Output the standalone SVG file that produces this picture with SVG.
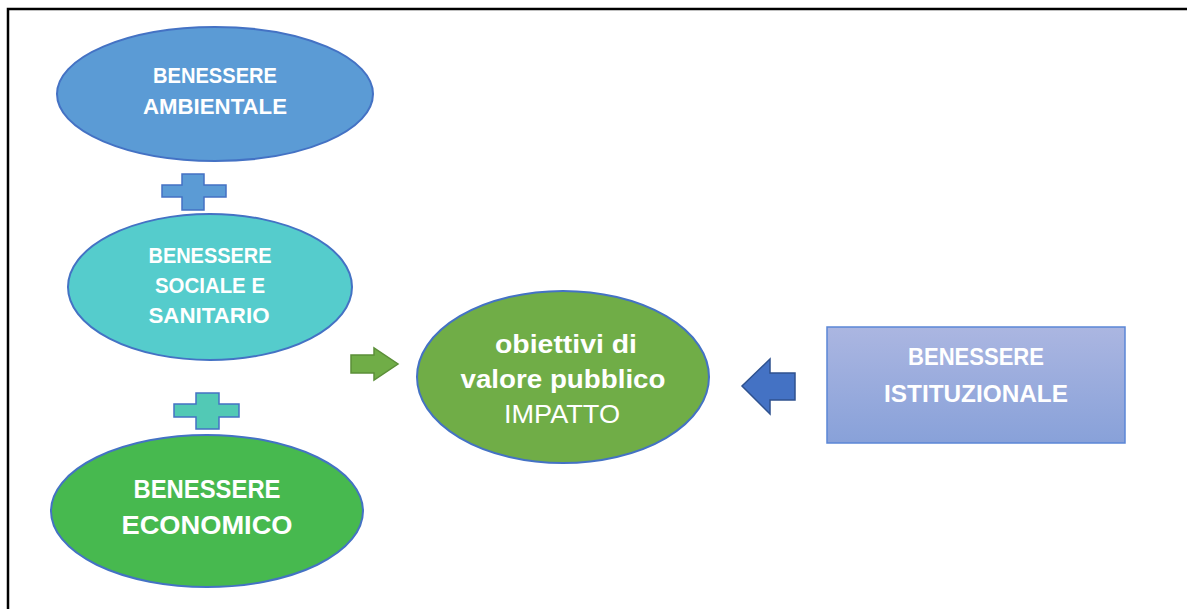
<svg xmlns="http://www.w3.org/2000/svg" width="1187" height="609" viewBox="0 0 1187 609">
  <defs>
    <linearGradient id="gRect" x1="0" y1="0" x2="0" y2="1">
      <stop offset="0" stop-color="#abb6e1"/>
      <stop offset="1" stop-color="#88a1d9"/>
    </linearGradient>
    <style>
      .t { font-family: "Liberation Sans", Arial, sans-serif; fill: #ffffff; text-anchor: middle; font-weight: bold; }
      .n { font-weight: normal; }
      .ell { stroke: #4472c4; stroke-width: 2; }
    </style>
  </defs>
  <rect x="0" y="0" width="1187" height="609" fill="#ffffff"/>
  <!-- frame -->
  <path d="M8 609 V9 H1187" fill="none" stroke="#000000" stroke-width="2.5"/>

  <g id="ambientale">
    <ellipse class="ell" cx="215" cy="94" rx="158" ry="67" fill="#5b9bd5"/>
    <text class="t" x="215" y="83" font-size="21.5" textLength="124" lengthAdjust="spacingAndGlyphs">BENESSERE</text>
    <text class="t" x="215" y="114" font-size="21.5" textLength="144" lengthAdjust="spacingAndGlyphs">AMBIENTALE</text>
  </g>

  <g id="plus1">
    <path d="M182 174 H204 V185 H226 V197 H204 V210 H182 V197 H162 V185 H182 Z" fill="#5b9bd5" stroke="#4472c4" stroke-width="1.5"/>
  </g>

  <g id="sociale">
    <ellipse class="ell" cx="210" cy="287" rx="142" ry="73" fill="#55cccc"/>
    <text class="t" x="210" y="263" font-size="21.5" textLength="123" lengthAdjust="spacingAndGlyphs">BENESSERE</text>
    <text class="t" x="210" y="293" font-size="21.5" textLength="110" lengthAdjust="spacingAndGlyphs">SOCIALE E</text>
    <text class="t" x="209" y="323" font-size="21.5" textLength="121" lengthAdjust="spacingAndGlyphs">SANITARIO</text>
  </g>

  <g id="plus2">
    <path d="M196 393 H219 V404 H239 V417 H219 V429 H196 V417 H174 V404 H196 Z" fill="#52c9b5" stroke="#4472c4" stroke-width="1.5"/>
  </g>

  <g id="economico">
    <ellipse class="ell" cx="207" cy="511" rx="156" ry="76" fill="#47b94f"/>
    <text class="t" x="207" y="498" font-size="25.5" textLength="147" lengthAdjust="spacingAndGlyphs">BENESSERE</text>
    <text class="t" x="207" y="534" font-size="25.5" textLength="171" lengthAdjust="spacingAndGlyphs">ECONOMICO</text>
  </g>

  <g id="impatto">
    <ellipse class="ell" cx="563" cy="377" rx="146" ry="86" fill="#70ad47"/>
    <text class="t" x="566" y="353" font-size="25" textLength="142" lengthAdjust="spacingAndGlyphs">obiettivi di</text>
    <text class="t" x="563" y="388" font-size="25" textLength="205" lengthAdjust="spacingAndGlyphs">valore pubblico</text>
    <text class="t n" x="562" y="423" font-size="25" textLength="116" lengthAdjust="spacingAndGlyphs">IMPATTO</text>
  </g>

  <g id="istituzionale">
    <rect x="827" y="327" width="298" height="116" fill="url(#gRect)" stroke="#5b86d6" stroke-width="1.5"/>
    <text class="t" x="976" y="365" font-size="23" textLength="136" lengthAdjust="spacingAndGlyphs">BENESSERE</text>
    <text class="t" x="976" y="402" font-size="23" textLength="184" lengthAdjust="spacingAndGlyphs">ISTITUZIONALE</text>
  </g>

  <g id="connectors">
    <path d="M351 355 H374 V348 L398 364 L374 380 V373 H351 Z" fill="#70ad47" stroke="#5b8f38" stroke-width="1.5"/>
    <path d="M795 373 H770 V359 L742 386 L770 414 V400 H795 Z" fill="#4472c4" stroke="#2f528f" stroke-width="1.5"/>
  </g>
</svg>
